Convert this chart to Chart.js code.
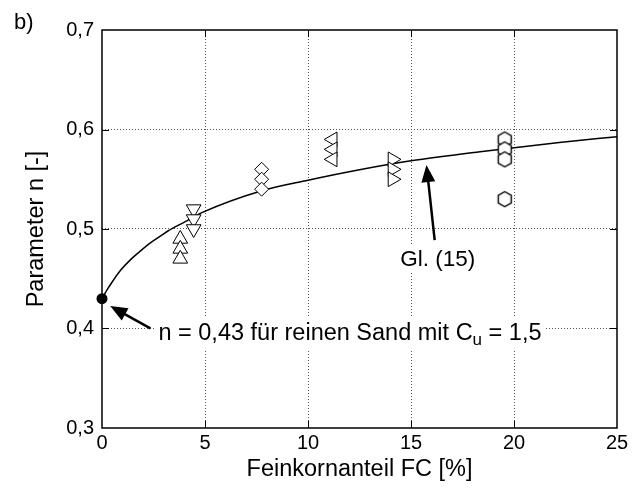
<!DOCTYPE html>
<html>
<head>
<meta charset="utf-8">
<script src="https://cdn.jsdelivr.net/npm/chart.js@4.4.1/dist/chart.umd.min.js"></script>
<style>
  html, body { margin: 0; padding: 0; background: #fff; }
  #wrap { width: 644px; height: 491px; }
</style>
</head>
<body>
<div id="wrap"><canvas id="chart" width="644" height="491"></canvas></div>
<script>
var fc_up = [3.8, 3.8, 3.8];
var n_up = [0.49, 0.48, 0.47];
var fc_down = [4.45, 4.45, 4.45];
var n_down = [0.52, 0.51, 0.50];
var fc_diamond = [7.75, 7.75, 7.75];
var n_diamond = [0.56, 0.55, 0.54];
var fc_left = [11.2, 11.2, 11.2];
var n_left = [0.59, 0.58, 0.57];
var fc_right = [14.1, 14.1, 14.1];
var n_right = [0.57, 0.56, 0.55];
var fc_hex = [19.55, 19.55, 19.55, 19.55];
var n_hex = [0.59, 0.58, 0.57, 0.53];
var fc_sand = [0];
var n_sand = [0.43];

var curve_fc = [0, 0.25, 0.55, 0.9, 1.4, 1.9, 2.35, 2.85, 3.2, 4, 4.85, 7.76, 10, 12.5, 15, 18.35, 22.2, 25];
var curve_n = [0.43, 0.439, 0.4485, 0.4585, 0.4695, 0.4785, 0.486, 0.493, 0.498, 0.507, 0.5165, 0.5385, 0.549, 0.5595, 0.5685, 0.5777, 0.587, 0.5928];

var x_ticks = [0, 5, 10, 15, 20, 25];
var y_ticks = [0.3, 0.4, 0.5, 0.6, 0.7];

// Beschriftungen (in Datenkoordinaten)
var notes = {
    sand_arrow: [[2.35, 0.4002], [0.4, 0.4226]],
    sand_text: [2.74, 0.3884],
    gl_arrow: [[16.15, 0.4889], [15.75, 0.5643]],
    gl_text: [16.3, 0.4628]
};

var FONT = '"Liberation Sans", Arial, Helvetica, sans-serif';

function pts(xs, ys) {
    return xs.map(function (x, i) { return { x: x, y: ys[i] }; });
}

function makeHex(r) {
    var c = document.createElement('canvas');
    var s = 20;
    c.width = s; c.height = s;
    var g = c.getContext('2d');
    g.beginPath();
    for (var i = 0; i < 6; i++) {
        var a = Math.PI / 180 * (60 * i - 90);
        var px = s / 2 + r * Math.cos(a), py = s / 2 + r * Math.sin(a);
        if (i) g.lineTo(px, py); else g.moveTo(px, py);
    }
    g.closePath();
    g.fillStyle = '#fff';
    g.fill();
    g.strokeStyle = '#000';
    g.lineWidth = 1.4;
    g.stroke();
    return c;
}

function marks(label, xs, ys, style, rot, r) {
    return {
        label: label,
        data: pts(xs, ys),
        showLine: false,
        pointStyle: style,
        pointRotation: rot,
        pointRadius: r,
        pointBackgroundColor: '#fff',
        pointBorderColor: '#000',
        pointBorderWidth: 1,
        clip: false,
        order: 1
    };
}

function gridColor(min, max) {
    return function (c) {
        if (c.tick && (Math.abs(c.tick.value - min) < 1e-6 || Math.abs(c.tick.value - max) < 1e-6)) {
            return 'rgba(0,0,0,0)';
        }
        return '#555';
    };
}

function drawArrow(ctx, x1, y1, x2, y2) {
    var ang = Math.atan2(y2 - y1, x2 - x1);
    var len = 17, hw = 7;
    var bx = x2 - Math.cos(ang) * len, by = y2 - Math.sin(ang) * len;
    ctx.beginPath();
    ctx.moveTo(x1, y1);
    ctx.lineTo(bx + Math.cos(ang) * 2, by + Math.sin(ang) * 2);
    ctx.lineWidth = 2.5;
    ctx.strokeStyle = '#000';
    ctx.stroke();
    ctx.beginPath();
    ctx.moveTo(x2, y2);
    ctx.lineTo(bx + Math.sin(ang) * hw, by - Math.cos(ang) * hw);
    ctx.lineTo(bx - Math.sin(ang) * hw, by + Math.cos(ang) * hw);
    ctx.closePath();
    ctx.fillStyle = '#000';
    ctx.fill();
}

var framePlugin = {
    id: 'frame',
    beforeDatasetsDraw: function (chart) {
        var ctx = chart.ctx, a = chart.chartArea;
        var xs = chart.scales.x, ys = chart.scales.y;
        ctx.save();
        ctx.strokeStyle = '#000';
        ctx.lineWidth = 1;
        ctx.beginPath();
        x_ticks.slice(1, -1).forEach(function (v) {
            var px = Math.round(xs.getPixelForValue(v)) + 0.5;
            ctx.moveTo(px, a.bottom); ctx.lineTo(px, a.bottom - 7);
            ctx.moveTo(px, a.top); ctx.lineTo(px, a.top + 7);
        });
        y_ticks.slice(1, -1).forEach(function (v) {
            var py = Math.round(ys.getPixelForValue(v)) + 0.5;
            ctx.moveTo(a.left, py); ctx.lineTo(a.left + 7, py);
            ctx.moveTo(a.right, py); ctx.lineTo(a.right - 7, py);
        });
        ctx.stroke();
        ctx.lineWidth = 1.5;
        ctx.strokeRect(a.left, a.top, a.right - a.left, a.bottom - a.top);
        ctx.restore();
    },
    afterDraw: function (chart) {
        var ctx = chart.ctx;
        var xs = chart.scales.x, ys = chart.scales.y;
        function P(p) { return [xs.getPixelForValue(p[0]), ys.getPixelForValue(p[1])]; }
        ctx.save();

        // Text n = 0,43 ...
        var t = P(notes.sand_text);
        var big = '23.5px ' + FONT, small = '17px ' + FONT;
        var s1 = 'n = 0,43 für reinen Sand mit C', s2 = 'u', s3 = ' = 1,5';
        ctx.font = big;
        var w1 = ctx.measureText(s1).width, w3 = ctx.measureText(s3).width;
        ctx.font = small;
        var w2 = ctx.measureText(s2).width;
        ctx.fillStyle = '#fff';
        ctx.fillRect(t[0] - 4, t[1] - 22, w1 + w2 + w3 + 8, 31);
        ctx.fillStyle = '#000';
        ctx.textBaseline = 'alphabetic';
        ctx.textAlign = 'left';
        ctx.font = big;
        ctx.fillText(s1, t[0], t[1]);
        ctx.font = small;
        ctx.fillText(s2, t[0] + w1, t[1] + 5);
        ctx.font = big;
        ctx.fillText(s3, t[0] + w1 + w2, t[1]);

        // Text Gl. (15)
        var g = P(notes.gl_text);
        ctx.font = '22.5px ' + FONT;
        var wg = ctx.measureText('Gl. (15)').width;
        ctx.fillStyle = '#fff';
        ctx.fillRect(g[0] - wg / 2 - 4, g[1] - 21, wg + 8, 28);
        ctx.fillStyle = '#000';
        ctx.textAlign = 'center';
        ctx.fillText('Gl. (15)', g[0], g[1]);

        // Pfeile
        var a0 = P(notes.sand_arrow[0]), a1 = P(notes.sand_arrow[1]);
        drawArrow(ctx, a0[0], a0[1], a1[0], a1[1]);
        var b0 = P(notes.gl_arrow[0]), b1 = P(notes.gl_arrow[1]);
        drawArrow(ctx, b0[0], b0[1], b1[0], b1[1]);

        // b)
        ctx.font = '22px ' + FONT;
        ctx.textAlign = 'left';
        ctx.fillText('b)', 14, 29);
        ctx.restore();
    }
};

var hexImg = makeHex(7.5);

var chart = new Chart(document.getElementById('chart'), {
    type: 'scatter',
    data: {
        datasets: [
            {
                label: 'Sand',
                data: pts(fc_sand, n_sand),
                pointStyle: 'circle',
                pointRadius: 5.5,
                pointBackgroundColor: '#000',
                pointBorderColor: '#000',
                pointBorderWidth: 0,
                clip: false,
                order: 0
            },
            marks('up', fc_up, n_up, 'triangle', 0, 8.5),
            marks('down', fc_down, n_down, 'triangle', 180, 8.5),
            marks('diamond', fc_diamond, n_diamond, 'rectRot', 0, 7),
            marks('left', fc_left, n_left, 'triangle', 270, 8.5),
            marks('right', fc_right, n_right, 'triangle', 90, 8.5),
            marks('hex', fc_hex, n_hex, hexImg, 0, 7),
            {
                label: 'Gl. (15)',
                data: pts(curve_fc, curve_n),
                showLine: true,
                borderColor: '#000',
                borderWidth: 1.5,
                pointRadius: 0,
                cubicInterpolationMode: 'monotone',
                fill: false,
                clip: false,
                order: 5
            }
        ]
    },
    options: {
        responsive: false,
        animation: false,
        events: [],
        layout: { padding: { top: 30, right: 27, bottom: 0, left: 0 } },
        plugins: {
            legend: { display: false },
            tooltip: { enabled: false }
        },
        scales: {
            x: {
                type: 'linear',
                min: 0,
                max: 25,
                afterBuildTicks: function (s) { s.ticks = x_ticks.map(function (v) { return { value: v }; }); },
                ticks: {
                    color: '#000',
                    font: { family: FONT, size: 20 },
                    padding: 3,
                    maxRotation: 0
                },
                grid: { color: gridColor(0, 25), lineWidth: 1, drawTicks: false },
                border: { display: false, dash: [1, 2] },
                title: {
                    display: true,
                    text: 'Feinkornanteil FC [%]',
                    color: '#000',
                    font: { family: FONT, size: 23.5 },
                    padding: { top: 0, bottom: 7 }
                },
                afterFit: function (s) { s.height = 63; }
            },
            y: {
                type: 'linear',
                min: 0.3,
                max: 0.7,
                afterBuildTicks: function (s) { s.ticks = y_ticks.map(function (v) { return { value: v }; }); },
                ticks: {
                    color: '#000',
                    font: { family: FONT, size: 20 },
                    padding: 8,
                    callback: function (v) { return v.toFixed(1).replace('.', ','); }
                },
                grid: { color: gridColor(0.3, 0.7), lineWidth: 1, drawTicks: false },
                border: { display: false, dash: [1, 2] },
                title: {
                    display: true,
                    text: 'Parameter n [-]',
                    color: '#000',
                    font: { family: FONT, size: 23.5 },
                    padding: { top: 22, bottom: 0 }
                },
                afterFit: function (s) { s.width = 102; }
            }
        }
    },
    plugins: [framePlugin]
});
</script>
</body>
</html>
